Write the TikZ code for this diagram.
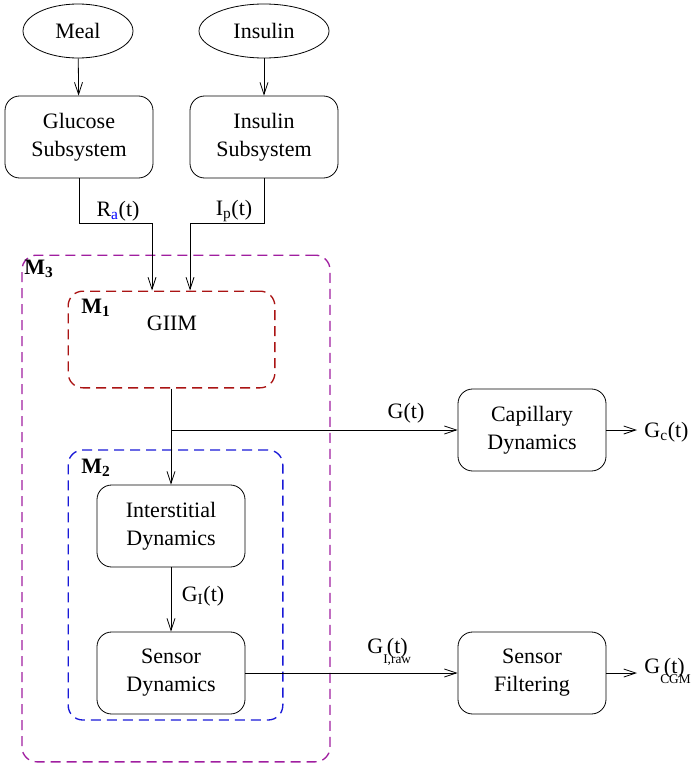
\documentclass[tikz,border=0pt]{standalone}
\usepackage{fontspec}
\setmainfont{Liberation Serif}
\usetikzlibrary{arrows.meta,shapes.geometric}
\definecolor{mthree}{RGB}{160,30,160}
\definecolor{mone}{RGB}{170,20,20}
\definecolor{mtwo}{RGB}{25,25,215}

\begin{document}
\begin{tikzpicture}[x=0.75pt,y=-0.75pt,line width=0.6pt,
		every node/.style={font=\fontsize{16.5}{21}\selectfont},
		block/.style={rectangle, draw, rounded corners=11pt, align=center, inner sep=0pt, minimum width=111pt, minimum height=61.5pt},
		source/.style={ellipse, draw, inner sep=0pt, minimum height=40.5pt},
		region/.style={rectangle, draw, dashed, line width=1pt, dash pattern=on 7.5pt off 4.5pt, rounded corners=11pt, inner sep=0pt},
		tag/.style={font=\fontsize{16.5}{21}\selectfont\bfseries},
		>={Straight Barb[length=9pt,width=6pt]}]
			\useasboundingbox (0,0) rectangle (691,767);
			
			% inputs
			\node[source, minimum width=82.5pt] (meal) at (78,31) {Meal};
			\node[source, minimum width=97.5pt] (ins) at (264,31) {Insulin};
			
			\node[block] (gluc) at (79,137) {Glucose\\Subsystem};
			\node[block] (inssub) at (264,137) {Insulin\\Subsystem};
			\draw[->] (meal) -- (gluc);
			\draw[->] (ins) -- (inssub);
			
			% model regions
			\node[region, draw=mthree, minimum width=231pt, minimum height=380pt] (mthr) at (176,508.5) {};
			\node[region, draw=mone, minimum width=155pt, minimum height=72.5pt] (mon) at (171.5,339.5) {};
			\node[region, draw=mtwo, minimum width=161pt, minimum height=202.5pt] (mtw) at (175.5,585) {};
			\node[tag] (lthr) at (39,269) {M$_\mathbf{3}$};
			\node[tag] (lon) at (96,308) {M$_\mathbf{1}$};
			\node[tag] (ltw) at (96,468) {M$_\mathbf{2}$};
			\node (giim) at (172,323) {GIIM};
			
			\coordinate (ra) at (152,223);
			\coordinate (ip) at (190,223);
			\draw[->] (gluc.south) |- (ra) -- (ra |- mon.north);
			\draw[->] (inssub.south) |- (ip) -- (ip |- mon.north);
			\node (lra) at (118,211) {R\textsubscript{\color{blue}a}(t)};
			\node (lip) at (234,211) {I\textsubscript{p}(t)};
			
			% sensor chain
			\node[block] (inter) at (171,526) {Interstitial\\Dynamics};
			\node[block] (sens) at (171,673) {Sensor\\Dynamics};
			\node[block] (cap) at (532,430) {Capillary\\Dynamics};
			\node[block] (filt) at (532,673) {Sensor\\Filtering};
			
			\coordinate (split) at (171,430);
			\draw[->] (mon.south -| inter.north) -- (inter.north);
			\draw[->] (split) -- (cap.west);
			\draw[->] (inter) -- (sens);
			\draw[->] (sens) -- (filt);
			\node (lg) at (406,413) {G(t)};
			\node (lgi) at (203,596) {G\textsubscript{I}(t)};
			\node[anchor=west, inner sep=0pt] (lgraw) at (367,652) {G\rlap{\raisebox{-1.05ex}{\fontsize{10}{10}\selectfont I,raw}}\,(t)};
			
			% outputs
			\coordinate (gc) at (637,430);
			\coordinate (gcgm) at (637,673);
			\draw[->] (cap.east) -- (gc);
			\draw[->] (filt.east) -- (gcgm);
			\node[anchor=west, inner sep=0pt] (lgc) at (644,432) {G\textsubscript{c}(t)};
			\node[anchor=west, inner sep=0pt] (lgcgm) at (644,671) {G\rlap{\raisebox{-1.05ex}{\fontsize{10}{10}\selectfont CGM}}\,(t)};
		\end{tikzpicture}
\end{document}
